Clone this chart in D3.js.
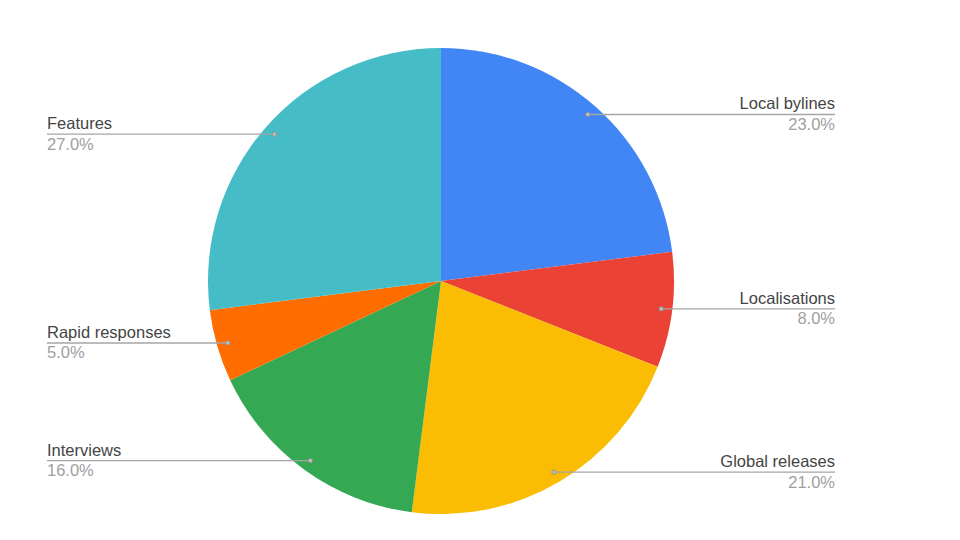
<!doctype html>
<html lang="en">
<head>
  <meta charset="utf-8">
  <title>Pie</title>
  <script src="https://d3js.org/d3.v7.min.js"></script>
  <style>
    body { margin: 0; background: #fff; }
    text { font-family: "Liberation Sans", Arial, sans-serif; }
  </style>
</head>
<body>
<svg width="960" height="540"></svg>
<script>
  var categories = ["Local bylines", "Localisations", "Global releases", "Interviews", "Rapid responses", "Features"];
  var values = [23, 8, 21, 16, 5, 27];
  var colors = ["#4285f4", "#ea4335", "#fbbc04", "#34a853", "#ff6d01", "#46bdc6"];

  var cx = 441, cy = 281, r = 233;
  var leftX = 47, rightX = 835;

  var svg = d3.select("svg"),
      g = svg.append("g").attr("transform", "translate(" + cx + "," + cy + ")");

  var data = categories.map(function(c, i) { return {name: c, value: values[i], color: colors[i]}; });
  var total = d3.sum(values);

  var pie = d3.pie().value(function(d) { return d.value; }).sort(null);
  var arc = d3.arc().innerRadius(0).outerRadius(r);
  var arcs = pie(data);

  g.selectAll("path.slice")
    .data(arcs)
    .enter().append("path")
      .attr("class", "slice")
      .attr("d", arc)
      .attr("fill", function(d) { return d.data.color; });

  // leader lines + labels
  var lbl = g.selectAll("g.lbl")
    .data(arcs)
    .enter().append("g")
      .attr("class", "lbl");

  function anchor(d) {
    var a = (d.startAngle + d.endAngle) / 2;
    return [Math.sin(a) * r * 0.953, -Math.cos(a) * r * 0.953];
  }
  function isRight(d) { return (d.startAngle + d.endAngle) / 2 < Math.PI; }

  lbl.append("line")
    .attr("x1", function(d) { return anchor(d)[0]; })
    .attr("y1", function(d) { return anchor(d)[1]; })
    .attr("x2", function(d) { return (isRight(d) ? rightX : leftX) - cx; })
    .attr("y2", function(d) { return anchor(d)[1]; })
    .attr("stroke", "#a6a6a6")
    .attr("stroke-width", 1.4);

  lbl.append("circle")
    .attr("cx", function(d) { return anchor(d)[0]; })
    .attr("cy", function(d) { return anchor(d)[1]; })
    .attr("r", 2.2)
    .attr("fill", "#bdbdbd")
    .attr("stroke", "#8a8a8a")
    .attr("stroke-width", 0.8);

  lbl.append("text")
    .attr("x", function(d) { return (isRight(d) ? rightX : leftX) - cx; })
    .attr("y", function(d) { return anchor(d)[1] - 5; })
    .attr("text-anchor", function(d) { return isRight(d) ? "end" : "start"; })
    .attr("font-size", 16.5)
    .attr("fill", "#444")
    .text(function(d) { return d.data.name; });

  lbl.append("text")
    .attr("x", function(d) { return (isRight(d) ? rightX : leftX) - cx; })
    .attr("y", function(d) { return anchor(d)[1] + 15.5; })
    .attr("text-anchor", function(d) { return isRight(d) ? "end" : "start"; })
    .attr("font-size", 16.5)
    .attr("fill", "#a0a0a0")
    .text(function(d) { return d3.format(".1%")(d.data.value / total); });
</script>
</body>
</html>
